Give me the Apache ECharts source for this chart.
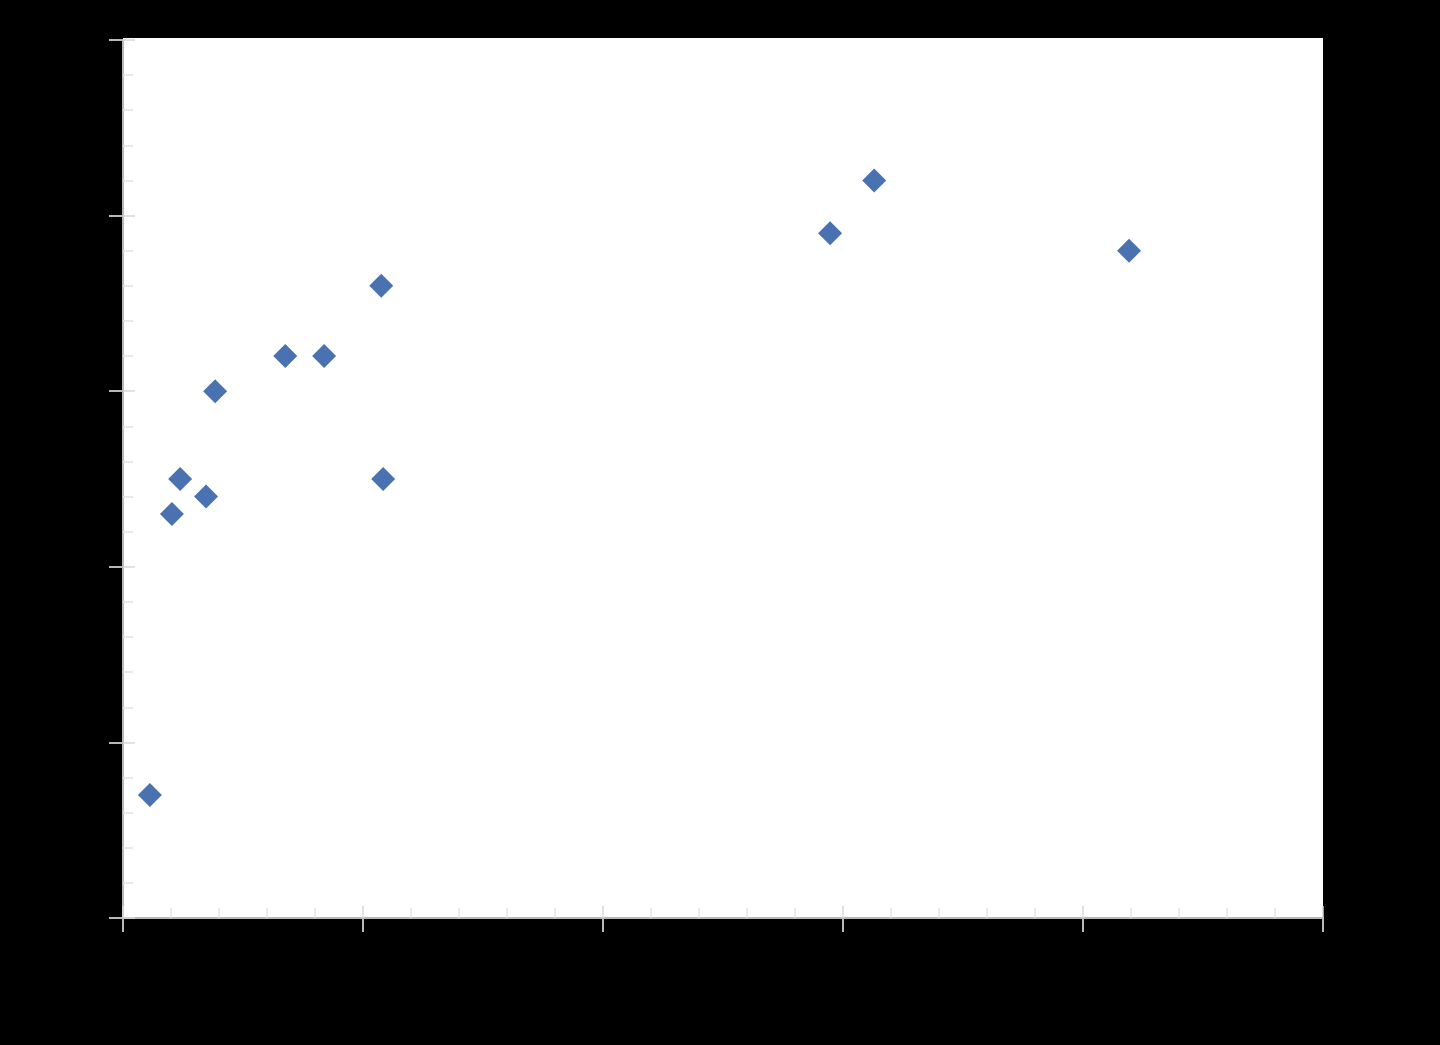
<!DOCTYPE html>
<html>
<head>
<meta charset="utf-8">
<script src="https://cdn.jsdelivr.net/npm/echarts@6/dist/echarts.min.js"></script>
<style>
  html, body { margin: 0; padding: 0; background: #000; }
  .chart { width: 1440px; height: 1045px; }
</style>
</head>
<body>
<div class="chart"></div>
<script>
// 数据
var xValues = [0.56, 1.02, 1.19, 1.73, 1.92, 3.38, 4.19, 5.38, 5.42, 14.73, 15.65, 20.96];
var yValues = [3.5, 11.5, 12.5, 12.0, 15.0, 16.0, 16.0, 18.0, 12.5, 19.5, 21.0, 19.0];
var axisMin = 0;
var axisMax = 25;
var axisStep = 5;

var points = [];
for (var i = 0; i < xValues.length; i++) {
    points.push([xValues[i], yValues[i]]);
}

var myChart = echarts.init(document.querySelector('.chart'));

// 外侧主刻度
function outerAxis(pos) {
    return {
        type: 'value',
        position: pos,
        min: axisMin,
        max: axisMax,
        interval: axisStep,
        splitLine: { show: false },
        axisLine: { show: true, onZero: false, lineStyle: { color: '#b8b8b8', width: 2 } },
        axisTick: { show: true, inside: false, length: 14, lineStyle: { color: '#b8b8b8', width: 2 } },
        minorTick: { show: false },
        axisLabel: { show: false },
    };
}
// 内侧刻度 + 次刻度
function innerAxis(pos) {
    return {
        type: 'value',
        position: pos,
        min: axisMin,
        max: axisMax,
        interval: axisStep,
        splitLine: { show: false },
        axisLine: { show: false },
        axisTick: { show: true, inside: true, length: 12, lineStyle: { color: '#d8d8d8', width: 1.5 } },
        minorTick: { show: true, splitNumber: 5, length: 10, lineStyle: { color: '#e2e2e2', width: 1.5 } },
        axisLabel: { show: false },
    };
}

var option = {
    backgroundColor: '#000',
    animation: false,
    // 白色底板，比坐标范围略高一点
    graphic: [{
        type: 'rect',
        z: -10,
        shape: { x: 123, y: 38, width: 1200, height: 880 },
        style: { fill: '#fff' },
    }],
    grid: {
        left: 123,
        top: 40,
        right: 117,
        bottom: 127,
        show: false,
    },
    xAxis: [outerAxis('bottom'), innerAxis('bottom')],
    yAxis: [outerAxis('left'), innerAxis('left')],
    series: [{
        type: 'scatter',
        symbol: 'diamond',
        symbolSize: 24,
        itemStyle: { color: '#4a72b0', opacity: 1 },
        data: points,
    }]
};

myChart.setOption(option);
</script>
</body>
</html>
